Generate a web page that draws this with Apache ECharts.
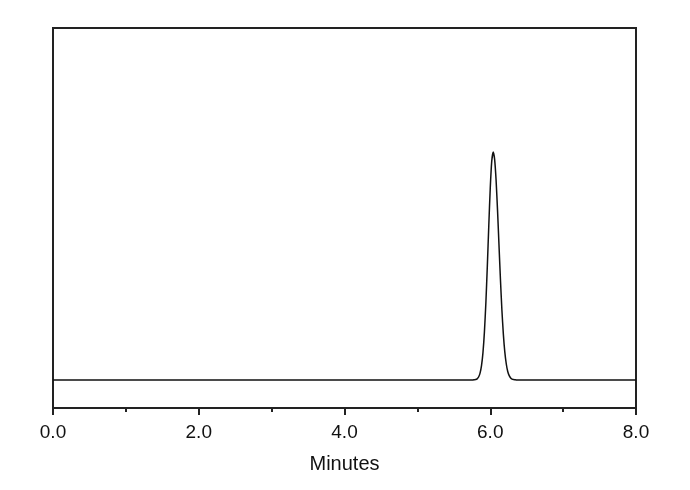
<!DOCTYPE html>
<html>
<head>
<meta charset="utf-8">
<script src="https://cdn.jsdelivr.net/npm/echarts@6/dist/echarts.min.js"></script>
<style>html,body{margin:0;padding:0;background:#fff;}#c{width:690px;height:490px;}</style>
</head>
<body>
<div id="c"></div>
<script>
// Time (minutes) and detector response (arbitrary units, baseline = 0)
const times = [0, 5.5, 5.76, 5.78, 5.80, 5.82, 5.84, 5.86, 5.88, 5.90, 5.92, 5.94, 5.96, 5.98, 6.00, 6.02, 6.04,
  6.06, 6.08, 6.10, 6.12, 6.14, 6.16, 6.18, 6.20, 6.22, 6.24, 6.26, 6.28, 6.30, 6.32, 6.34, 6.36, 6.40, 8.0];
const signal = [0, 0, 0, 0.1, 0.2, 0.5, 1.3, 3.0, 6.3, 12.0, 21.1, 33.9, 50.0, 67.8, 84.1, 95.8, 100,
  96.8, 87.7, 74.4, 59.1, 44.0, 30.6, 20.0, 12.2, 7.0, 3.7, 1.9, 0.9, 0.4, 0.2, 0.1, 0, 0, 0];
const xTicks = [0, 2, 4, 6, 8];
const xName = 'Minutes';

const pts = times.map((t, i) => [t, signal[i]]);

const chart = echarts.init(document.getElementById('c'));
chart.setOption({
  animation: false,
  backgroundColor: '#fff',
  grid: { left: 53, right: 54, top: 28, bottom: 82, show: true, borderColor: '#222', borderWidth: 2, backgroundColor: 'transparent' },
  xAxis: {
    type: 'value', min: xTicks[0], max: xTicks[xTicks.length - 1], interval: 2,
    name: xName, nameLocation: 'middle', nameGap: 46,
    nameTextStyle: { fontFamily: 'Liberation Sans, Arial', fontSize: 20, color: '#111' },
    axisLine: { show: true, onZero: false, lineStyle: { color: '#222', width: 2 } },
    axisTick: { show: true, inside: false, length: 7, lineStyle: { color: '#222', width: 2 } },
    minorTick: { show: true, splitNumber: 2, length: 4, lineStyle: { color: '#222', width: 2 } },
    axisLabel: { fontFamily: 'Liberation Sans, Arial', fontSize: 19, color: '#111', margin: 15, formatter: v => v.toFixed(1) },
    splitLine: { show: false }
  },
  yAxis: { type: 'value', min: -12.3, max: 154.4, show: false, splitLine: { show: false } },
  series: [{
    type: 'line', data: pts, showSymbol: false, smooth: 0.2,
    lineStyle: { color: '#111', width: 1.5 }
  }]
});
</script>
</body>
</html>
